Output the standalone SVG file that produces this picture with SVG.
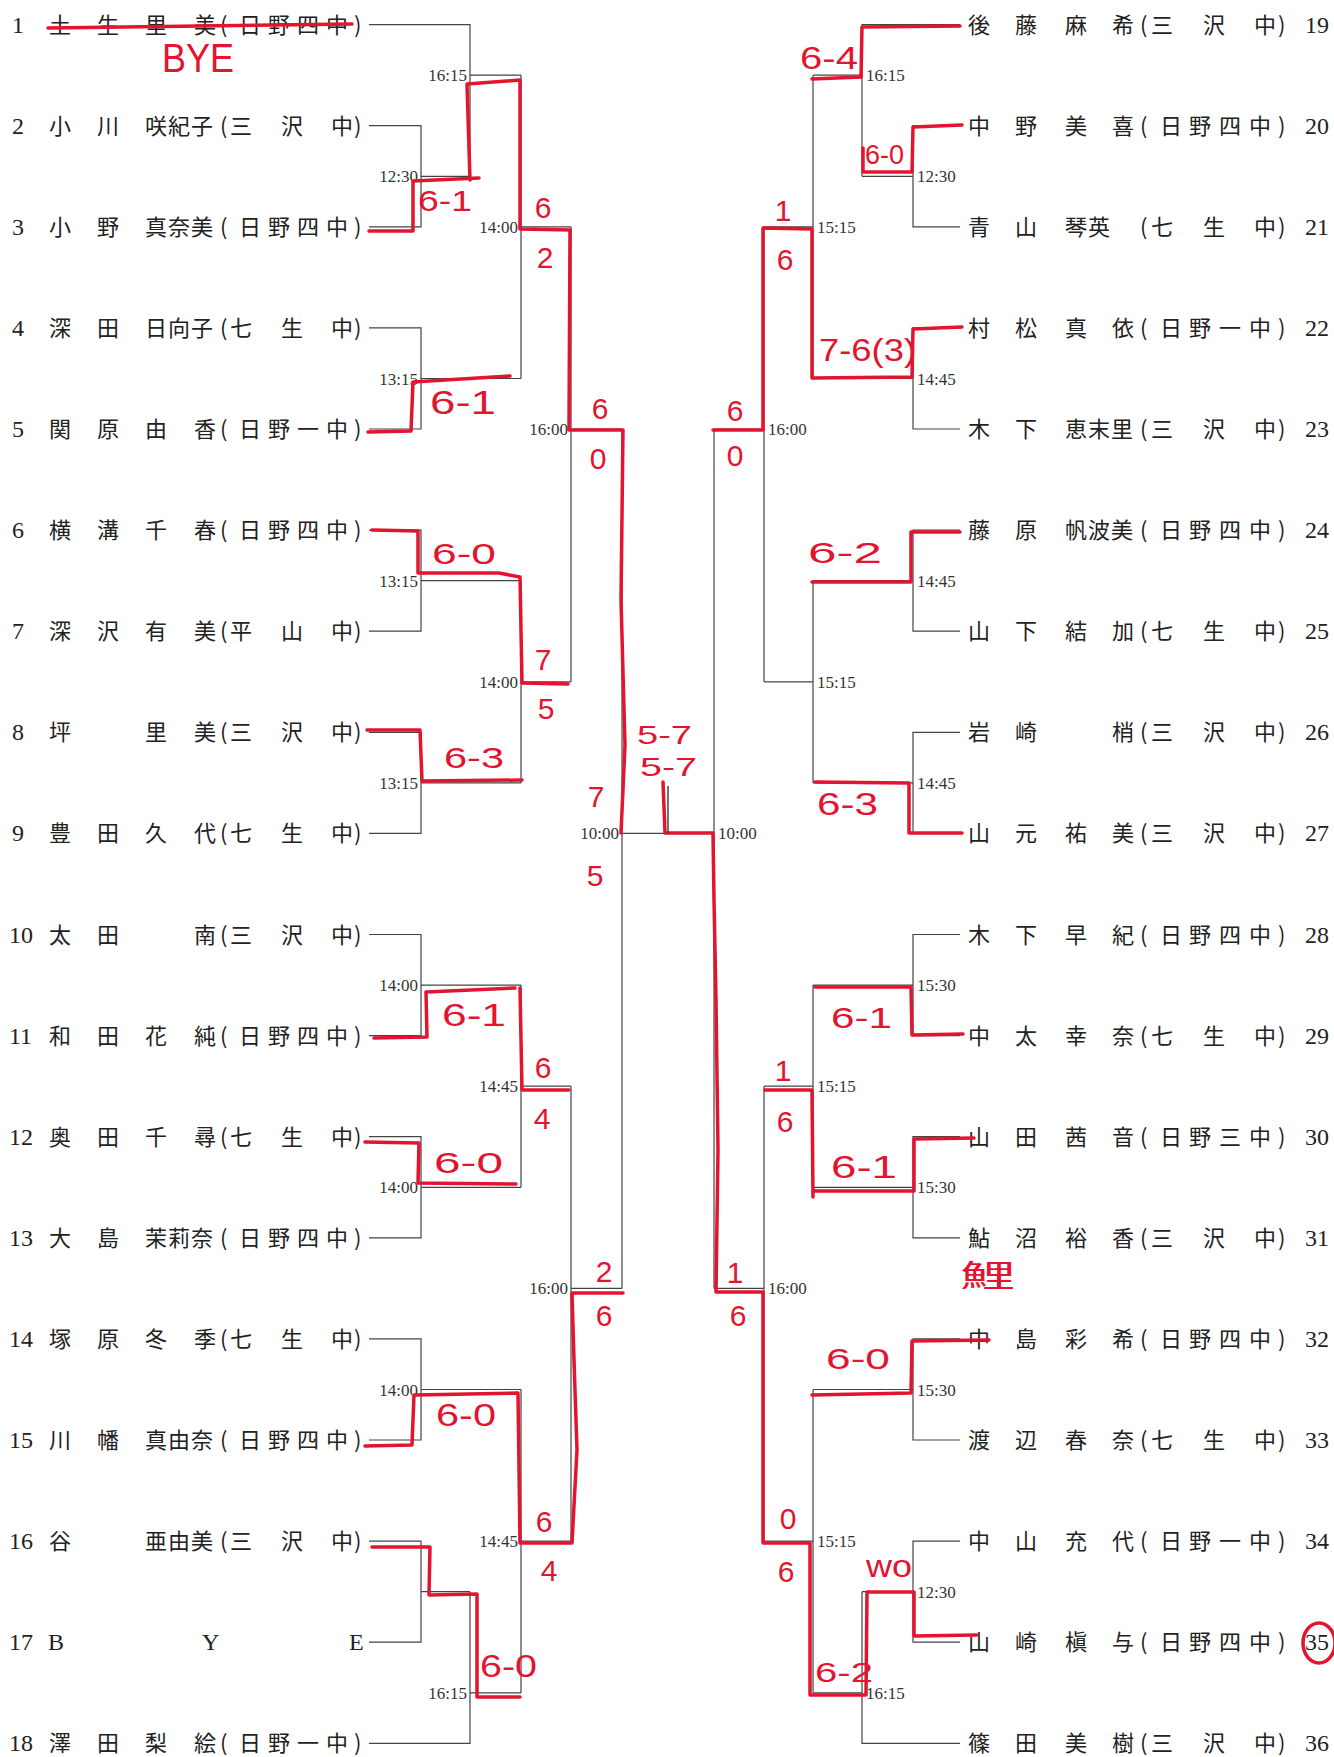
<svg xmlns="http://www.w3.org/2000/svg" width="1334" height="1757" viewBox="0 0 1334 1757">
<style>
.nm{font-family:"Noto Sans CJK JP","Noto Sans CJK SC",sans-serif;font-size:22px;fill:#222}
.no{font-family:"Liberation Serif",serif;font-size:24px;fill:#222}
.tm{font-family:"Liberation Serif",serif;font-size:17px;fill:#333}
.tl{text-anchor:end}
.ln{fill:none;stroke:#444;stroke-width:1.2}
.rd{fill:none;stroke:#e3142f;stroke-width:3.5;stroke-linecap:round;stroke-linejoin:round}
.hw{font-family:"Liberation Sans",sans-serif;fill:#e3142f}
.hc{font-family:"Liberation Sans",sans-serif;fill:#e3142f;font-size:30px;text-anchor:middle}
</style>
<rect width="1334" height="1757" fill="#ffffff"/>

<g id="connectors">
<path class="ln" d="M369,24.6 H470 V176.3 M369,125.7 H421 V226.8 H369 M421,176.3 H470 M470,75.2 H521
M369,327.9 H421 V429 H369 M421,378.5 H521 M521,75.2 V378.5 M521,226.8 H571
M369,530.1 H421 V631.2 H369 M421,580.7 H521 M369,732.3 H421 V833.4 H369 M421,782.9 H521
M521,580.7 V782.9 M521,681.8 H571 M571,226.8 V681.8 M571,429 H622
M369,934.5 H421 V1035.6 H369 M421,985.1 H521 M369,1136.7 H421 V1237.8 H369 M421,1187.3 H521
M521,985.1 V1187.3 M521,1086.2 H571 M369,1338.9 H421 V1440 H369 M421,1389.5 H521
M369,1541.1 H421 V1642.2 H369 M421,1591.7 H470 M369,1743.3 H470 V1591.7 M470,1692.8 H521
M521,1389.5 V1692.8 M521,1541.1 H571 M571,1086.2 V1541.1 M571,1288.4 H622
M622,429 V1288.4 M622,833.4 H714"/>
<path class="ln" d="M960,24.6 H862 V176.3 M960,125.7 H913 V226.8 H960 M913,176.3 H862 M862,75.2 H813
M960,327.9 H913 V429 H960 M913,378.5 H813 M813,75.2 V378.5 M813,226.8 H764
M960,530.1 H913 V631.2 H960 M913,580.7 H813 M960,732.3 H913 V833.4 H960 M913,782.9 H813
M813,580.7 V782.9 M813,681.8 H764 M764,226.8 V681.8 M764,429 H714
M960,934.5 H913 V1035.6 H960 M913,985.1 H813 M960,1136.7 H913 V1237.8 H960 M913,1187.3 H813
M813,985.1 V1187.3 M813,1086.2 H764 M960,1338.9 H913 V1440 H960 M913,1389.5 H813
M960,1541.1 H913 V1642.2 H960 M913,1591.7 H862 M960,1743.3 H862 V1591.7 M862,1692.8 H813
M813,1389.5 V1692.8 M813,1541.1 H764 M764,1086.2 V1541.1 M764,1288.4 H714
M714,429 V1288.4"/>
</g>

<g id="times" class="tm">
<text class="tl" x="418" y="182.3">12:30</text>
<text class="tl" x="467" y="81.2">16:15</text>
<text class="tl" x="418" y="384.5">13:15</text>
<text class="tl" x="518" y="232.8">14:00</text>
<text class="tl" x="418" y="586.7">13:15</text>
<text class="tl" x="418" y="788.9">13:15</text>
<text class="tl" x="518" y="687.8">14:00</text>
<text class="tl" x="568" y="435">16:00</text>
<text class="tl" x="619" y="839.4">10:00</text>
<text class="tl" x="418" y="991.1">14:00</text>
<text class="tl" x="418" y="1193.3">14:00</text>
<text class="tl" x="518" y="1092.2">14:45</text>
<text class="tl" x="418" y="1395.5">14:00</text>
<text class="tl" x="467" y="1698.8">16:15</text>
<text class="tl" x="518" y="1547.1">14:45</text>
<text class="tl" x="568" y="1294.4">16:00</text>
<text x="866" y="81.2">16:15</text>
<text x="917" y="182.3">12:30</text>
<text x="817" y="232.8">15:15</text>
<text x="917" y="384.5">14:45</text>
<text x="768" y="435">16:00</text>
<text x="917" y="586.7">14:45</text>
<text x="817" y="687.8">15:15</text>
<text x="917" y="788.9">14:45</text>
<text x="718" y="839.4">10:00</text>
<text x="917" y="991.1">15:30</text>
<text x="817" y="1092.2">15:15</text>
<text x="917" y="1193.3">15:30</text>
<text x="768" y="1294.4">16:00</text>
<text x="917" y="1395.5">15:30</text>
<text x="817" y="1547.1">15:15</text>
<text x="917" y="1597.7">12:30</text>
<text x="866" y="1698.8">16:15</text>
</g>

<g id="p1"><text class="no" x="12" y="32.6">1</text><text class="nm" x="49 97 145 194 220 239 268 297 326 354" y="32.6">土生里美(日野四中)</text></g>
<g id="p2"><text class="no" x="12" y="133.7">2</text><text class="nm" x="49 97 145 168 191 220 230 281 331 354" y="133.7">小川咲紀子(三沢中)</text></g>
<g id="p3"><text class="no" x="12" y="234.8">3</text><text class="nm" x="49 97 145 168 191 220 239 268 297 326 354" y="234.8">小野真奈美(日野四中)</text></g>
<g id="p4"><text class="no" x="12" y="335.9">4</text><text class="nm" x="49 97 145 168 191 220 230 281 331 354" y="335.9">深田日向子(七生中)</text></g>
<g id="p5"><text class="no" x="12" y="437">5</text><text class="nm" x="49 97 145 194 220 239 268 297 326 354" y="437">関原由香(日野一中)</text></g>
<g id="p6"><text class="no" x="12" y="538.1">6</text><text class="nm" x="49 97 145 194 220 239 268 297 326 354" y="538.1">横溝千春(日野四中)</text></g>
<g id="p7"><text class="no" x="12" y="639.2">7</text><text class="nm" x="49 97 145 194 220 230 281 331 354" y="639.2">深沢有美(平山中)</text></g>
<g id="p8"><text class="no" x="12" y="740.3">8</text><text class="nm" x="49 145 194 220 230 281 331 354" y="740.3">坪里美(三沢中)</text></g>
<g id="p9"><text class="no" x="12" y="841.4">9</text><text class="nm" x="49 97 145 194 220 230 281 331 354" y="841.4">豊田久代(七生中)</text></g>
<g id="p10"><text class="no" x="9" y="942.5">10</text><text class="nm" x="49 97 194 220 230 281 331 354" y="942.5">太田南(三沢中)</text></g>
<g id="p11"><text class="no" x="9" y="1043.6">11</text><text class="nm" x="49 97 145 194 220 239 268 297 326 354" y="1043.6">和田花純(日野四中)</text></g>
<g id="p12"><text class="no" x="9" y="1144.7">12</text><text class="nm" x="49 97 145 194 220 230 281 331 354" y="1144.7">奥田千尋(七生中)</text></g>
<g id="p13"><text class="no" x="9" y="1245.8">13</text><text class="nm" x="49 97 145 168 191 220 239 268 297 326 354" y="1245.8">大島茉莉奈(日野四中)</text></g>
<g id="p14"><text class="no" x="9" y="1346.9">14</text><text class="nm" x="49 97 145 194 220 230 281 331 354" y="1346.9">塚原冬季(七生中)</text></g>
<g id="p15"><text class="no" x="9" y="1448">15</text><text class="nm" x="49 97 145 168 191 220 239 268 297 326 354" y="1448">川幡真由奈(日野四中)</text></g>
<g id="p16"><text class="no" x="9" y="1549.1">16</text><text class="nm" x="49 145 168 191 220 230 281 331 354" y="1549.1">谷亜由美(三沢中)</text></g>
<g id="p17"><text class="no" x="9" y="1650.2">17</text><text class="no" x="48 202 349" y="1650.2" font-size="26">BYE</text></g>
<g id="p18"><text class="no" x="9" y="1751.3">18</text><text class="nm" x="49 97 145 194 220 239 268 297 326 354" y="1751.3">澤田梨絵(日野一中)</text></g>

<g id="p19"><text class="nm" x="968 1015 1065 1112 1140 1151 1203 1254 1278" y="32.6">後藤麻希(三沢中)</text><text class="no" x="1305" y="32.6">19</text></g>
<g id="p20"><text class="nm" x="968 1015 1065 1112 1140 1160 1189 1219 1249 1278" y="133.7">中野美喜(日野四中)</text><text class="no" x="1305" y="133.7">20</text></g>
<g id="p21"><text class="nm" x="968 1015 1065 1088 1140 1151 1203 1254 1278" y="234.8">青山琴英(七生中)</text><text class="no" x="1305" y="234.8">21</text></g>
<g id="p22"><text class="nm" x="968 1015 1065 1112 1140 1160 1189 1219 1249 1278" y="335.9">村松真依(日野一中)</text><text class="no" x="1305" y="335.9">22</text></g>
<g id="p23"><text class="nm" x="968 1015 1065 1088 1111 1140 1151 1203 1254 1278" y="437">木下恵末里(三沢中)</text><text class="no" x="1305" y="437">23</text></g>
<g id="p24"><text class="nm" x="968 1015 1065 1088 1111 1140 1160 1189 1219 1249 1278" y="538.1">藤原帆波美(日野四中)</text><text class="no" x="1305" y="538.1">24</text></g>
<g id="p25"><text class="nm" x="968 1015 1065 1112 1140 1151 1203 1254 1278" y="639.2">山下結加(七生中)</text><text class="no" x="1305" y="639.2">25</text></g>
<g id="p26"><text class="nm" x="968 1015 1112 1140 1151 1203 1254 1278" y="740.3">岩崎梢(三沢中)</text><text class="no" x="1305" y="740.3">26</text></g>
<g id="p27"><text class="nm" x="968 1015 1065 1112 1140 1151 1203 1254 1278" y="841.4">山元祐美(三沢中)</text><text class="no" x="1305" y="841.4">27</text></g>
<g id="p28"><text class="nm" x="968 1015 1065 1112 1140 1160 1189 1219 1249 1278" y="942.5">木下早紀(日野四中)</text><text class="no" x="1305" y="942.5">28</text></g>
<g id="p29"><text class="nm" x="968 1015 1065 1112 1140 1151 1203 1254 1278" y="1043.6">中太幸奈(七生中)</text><text class="no" x="1305" y="1043.6">29</text></g>
<g id="p30"><text class="nm" x="968 1015 1065 1112 1140 1160 1189 1219 1249 1278" y="1144.7">山田茜音(日野三中)</text><text class="no" x="1305" y="1144.7">30</text></g>
<g id="p31"><text class="nm" x="968 1015 1065 1112 1140 1151 1203 1254 1278" y="1245.8">鮎沼裕香(三沢中)</text><text class="no" x="1305" y="1245.8">31</text></g>
<g id="p32"><text class="nm" x="968 1015 1065 1112 1140 1160 1189 1219 1249 1278" y="1346.9">中島彩希(日野四中)</text><text class="no" x="1305" y="1346.9">32</text></g>
<g id="p33"><text class="nm" x="968 1015 1065 1112 1140 1151 1203 1254 1278" y="1448">渡辺春奈(七生中)</text><text class="no" x="1305" y="1448">33</text></g>
<g id="p34"><text class="nm" x="968 1015 1065 1112 1140 1160 1189 1219 1249 1278" y="1549.1">中山充代(日野一中)</text><text class="no" x="1305" y="1549.1">34</text></g>
<g id="p35"><text class="nm" x="968 1015 1065 1112 1140 1160 1189 1219 1249 1278" y="1650.2">山崎槇与(日野四中)</text><text class="no" x="1305" y="1650.2">35</text></g>
<g id="p36"><text class="nm" x="968 1015 1065 1112 1140 1151 1203 1254 1278" y="1751.3">篠田美樹(三沢中)</text><text class="no" x="1305" y="1751.3">36</text></g>

<g id="annotations">
<path class="rd" d="M48,28 L200,26 L352,24"/>
<path class="rd" d="M369,231 L413,231 L413,181 L479,178"/>
<path class="rd" d="M470,180 L467,84 L520,80 L520,229 L570,230 L569,430 L623,430 L621,600 L625,745 L621,833"/>
<path class="rd" d="M368,432 L411,431 L413,382 L510,376"/>
<path class="rd" d="M372,530 L418,531 L418,573 L499,573 L520,577 L522,683 L568,684"/>
<path class="rd" d="M367,730 L420,730 L422,781 L522,780"/>
<path class="rd" d="M374,1038 L427,1037 L426,992 L515,988"/>
<path class="rd" d="M520,988 L522,1090 L569,1090"/>
<path class="rd" d="M365,1142 L419,1143 L418,1183 L516,1184"/>
<path class="rd" d="M365,1446 L412,1445 L414,1395 L518,1393 L520,1543 L572,1543 L577,1450 L574,1360 L572,1293 L623,1293"/>
<path class="rd" d="M372,1547 L430,1547 L429,1595 L477,1594 L477,1697 L520,1697"/>
<path class="rd" d="M960,26 L862,27 L861,77 L812,79"/>
<path class="rd" d="M962,125 L913,127 L912,172 L863,172 L863,148"/>
<path class="rd" d="M962,327 L913,329 L912,377 L812,378 L812,229 L763,228 L763,430 L713,430"/>
<path class="rd" d="M960,532 L911,532 L911,582 L812,582"/>
<path class="rd" d="M962,833 L909,833 L909,783 L815,782"/>
<path class="rd" d="M963,1034 L912,1035 L911,987 L815,987"/>
<path class="rd" d="M974,1138 L914,1139 L914,1191 L814,1191"/>
<path class="rd" d="M813,1197 L812,1090 L765,1090"/>
<path class="rd" d="M989,1340 L912,1341 L911,1393 L812,1395"/>
<path class="rd" d="M977,1635 L914,1636 L914,1592 L867,1592 L866,1695 L810,1695 L810,1543 L763,1543 L763,1292 L716,1292 L718,1150 L716,1000 L714,900 L713,833 L665,833 L663,782"/>
<path d="M668,834 V786" fill="none" stroke="#444" stroke-width="1.5"/>
<ellipse class="rd" cx="1319" cy="1643" rx="16" ry="20" stroke-width="2"/>

<text class="hw" x="162" y="72" font-size="40" textLength="72" lengthAdjust="spacingAndGlyphs">BYE</text>
<text class="hw" x="418" y="211" font-size="30" textLength="54" lengthAdjust="spacingAndGlyphs">6-1</text>
<text class="hw" x="430" y="414" font-size="34" textLength="66" lengthAdjust="spacingAndGlyphs">6-1</text>
<text class="hw" x="432" y="564" font-size="30" textLength="64" lengthAdjust="spacingAndGlyphs">6-0</text>
<text class="hw" x="444" y="768" font-size="30" textLength="60" lengthAdjust="spacingAndGlyphs">6-3</text>
<text class="hw" x="442" y="1026" font-size="32" textLength="64" lengthAdjust="spacingAndGlyphs">6-1</text>
<text class="hw" x="434" y="1173" font-size="30" textLength="69" lengthAdjust="spacingAndGlyphs">6-0</text>
<text class="hw" x="436" y="1426" font-size="32" textLength="60" lengthAdjust="spacingAndGlyphs">6-0</text>
<text class="hw" x="480" y="1677" font-size="32" textLength="57" lengthAdjust="spacingAndGlyphs">6-0</text>
<text class="hw" x="637" y="744" font-size="26" textLength="55" lengthAdjust="spacingAndGlyphs">5-7</text>
<text class="hw" x="640" y="776" font-size="26" textLength="57" lengthAdjust="spacingAndGlyphs">5-7</text>
<text class="hw" x="800" y="69" font-size="32" textLength="58" lengthAdjust="spacingAndGlyphs">6-4</text>
<text class="hw" x="865" y="164" font-size="28" textLength="39" lengthAdjust="spacingAndGlyphs">6-0</text>
<text class="hw" x="819" y="361" font-size="32" textLength="97" lengthAdjust="spacingAndGlyphs">7-6(3)</text>
<text class="hw" x="808" y="563" font-size="30" textLength="74" lengthAdjust="spacingAndGlyphs">6-2</text>
<text class="hw" x="817" y="815" font-size="32" textLength="61" lengthAdjust="spacingAndGlyphs">6-3</text>
<text class="hw" x="831" y="1028" font-size="30" textLength="61" lengthAdjust="spacingAndGlyphs">6-1</text>
<text class="hw" x="831" y="1178" font-size="32" textLength="66" lengthAdjust="spacingAndGlyphs">6-1</text>
<text class="hw" x="826" y="1369" font-size="30" textLength="64" lengthAdjust="spacingAndGlyphs">6-0</text>
<text class="hw" x="866" y="1577" font-size="32" textLength="46" lengthAdjust="spacingAndGlyphs">wo</text>
<text class="hw" x="815" y="1682" font-size="28" textLength="58" lengthAdjust="spacingAndGlyphs">6-2</text>
<text x="960" y="1286" font-family="Noto Sans CJK JP, sans-serif" font-size="30" fill="#e3142f" textLength="55" lengthAdjust="spacingAndGlyphs">鯉</text>

<text class="hc" x="543" y="218">6</text>
<text class="hc" x="545" y="268">2</text>
<text class="hc" x="600" y="419">6</text>
<text class="hc" x="598" y="469">0</text>
<text class="hc" x="543" y="670">7</text>
<text class="hc" x="546" y="719">5</text>
<text class="hc" x="596" y="807">7</text>
<text class="hc" x="595" y="886">5</text>
<text class="hc" x="543" y="1078">6</text>
<text class="hc" x="542" y="1129">4</text>
<text class="hc" x="604" y="1282">2</text>
<text class="hc" x="604" y="1326">6</text>
<text class="hc" x="544" y="1532">6</text>
<text class="hc" x="549" y="1581">4</text>
<text class="hc" x="783" y="221">1</text>
<text class="hc" x="785" y="270">6</text>
<text class="hc" x="735" y="421">6</text>
<text class="hc" x="735" y="466">0</text>
<text class="hc" x="735" y="1283">1</text>
<text class="hc" x="738" y="1326">6</text>
<text class="hc" x="783" y="1081">1</text>
<text class="hc" x="785" y="1132">6</text>
<text class="hc" x="788" y="1529">0</text>
<text class="hc" x="786" y="1582">6</text>
</g>
</svg>
